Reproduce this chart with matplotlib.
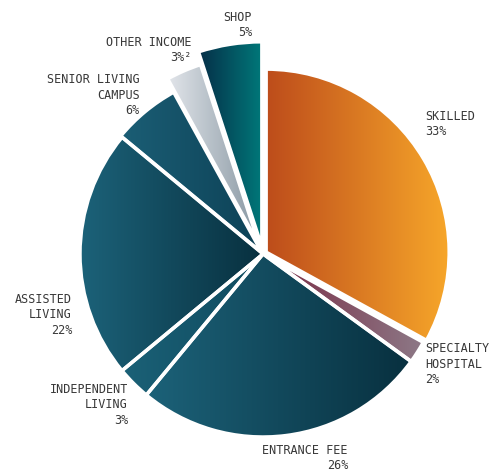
import matplotlib
matplotlib.use("Agg")
import matplotlib.pyplot as plt
import numpy as np
from matplotlib.colors import LinearSegmentedColormap

# slice data, clockwise from 12 o'clock
labels = ["SKILLED", "SPECIALTY\nHOSPITAL", "ENTRANCE FEE", "INDEPENDENT\nLIVING",
          "ASSISTED\nLIVING", "SENIOR LIVING\nCAMPUS", "OTHER INCOME", "SHOP"]
shares = [33, 2, 26, 3, 22, 6, 3, 5]
pct_text = ["33%", "2%", "26%", "3%", "22%", "6%", "3%\u00b2", "5%"]

# horizontal gradient (left colour, right colour) for each slice
grad_left = ["#bd4c1b", "#7a2c45", "#1c6279", "#1b6177", "#1c6279", "#1b5e75", "#e2e5ea", "#062f48"]
grad_right = ["#f7a72a", "#8d7987", "#08303f", "#0f4a5e", "#08303f", "#0d4156", "#8797a2", "#00797a"]
explode = [0.02, 0.02, 0.0, 0.0, 0.0, 0.01, 0.05, 0.04]
radii = [1.0, 0.98, 1.0, 1.0, 1.0, 1.0, 1.04, 1.12]

# label anchor in pixels (x, y of middle line) and alignment
label_pos = [(425, 124, "left"), (425, 364, "left"), (348, 458, "right"), (128, 405, "right"),
             (72, 315, "right"), (140, 95, "right"), (192, 50, "right"), (252, 25, "right")]

W, H = 491, 472
cx, cy, R = 263, 254, 183


def px(x, y):
    return (x - cx) / R, (cy - y) / R


fig = plt.figure(figsize=(W / 100, H / 100), dpi=100)
ax = fig.add_axes([0, 0, 1, 1])

wedges, _ = ax.pie(shares, startangle=90, counterclock=False, radius=1, explode=explode,
                   wedgeprops=dict(edgecolor="white", linewidth=2.5, facecolor="none"))

grad = np.linspace(0, 1, 256).reshape(1, -1)
for w, r, c0, c1 in zip(wedges, radii, grad_left, grad_right):
    w.set_radius(r)
    w.set_zorder(3)
    ext = w.get_path().get_extents()
    cmap = LinearSegmentedColormap.from_list("g", [c0, c1])
    im = ax.imshow(grad, extent=(ext.x0, ext.x1, ext.y0, ext.y1), cmap=cmap,
                   aspect="auto", interpolation="bicubic", zorder=2)
    im.set_clip_path(w)

for lab, pct, (x, y, ha) in zip(labels, pct_text, label_pos):
    tx, ty = px(x, y)
    ax.text(tx, ty, lab + "\n" + pct, ha=ha, va="center", multialignment=ha,
            family="DejaVu Sans Mono", fontsize=8.5, color="#383838", linespacing=1.22)

ax.set_xlim(-cx / R, (W - cx) / R)
ax.set_ylim(-(H - cy) / R, cy / R)
ax.set_aspect("auto")
ax.axis("off")

fig.savefig("out.png", dpi=100)
